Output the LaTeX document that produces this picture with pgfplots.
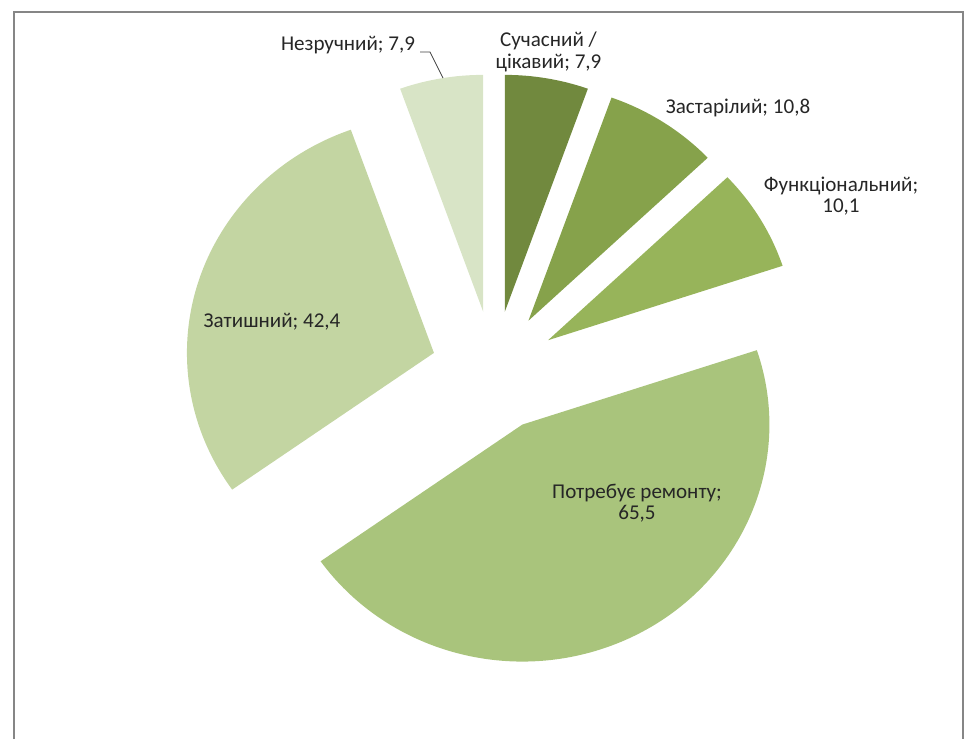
\documentclass[border=0pt]{standalone}
\usepackage{fontspec}
\setmainfont{Carlito}
\usepackage{pgfplots}
\pgfplotsset{compat=1.18}
\usepackage{pgfplotstable}

\definecolor{s1}{HTML}{71893E}
\definecolor{s2}{HTML}{86A24B}
\definecolor{s3}{HTML}{97B45A}
\definecolor{s4}{HTML}{A9C47C}
\definecolor{s5}{HTML}{C3D5A2}
\definecolor{s6}{HTML}{D8E4C6}
\definecolor{frame}{HTML}{868686}
\definecolor{txt}{HTML}{262626}

% values, clockwise from 12 o'clock
\pgfplotstableread{
value
7.9
10.8
10.1
65.5
42.4
7.9
}\piedata

\begin{document}
\begin{tikzpicture}
\begin{axis}[
  width=731.25pt, height=550.5pt, scale only axis,
  xmin=0, xmax=975, ymin=0, ymax=734,
  hide axis, clip=false,
]
\pgfplotsextra{
  \pgfplotstablegetrowsof{\piedata}
  \pgfmathtruncatemacro\pienrows{\pgfplotsretval-1}
  \gdef\pietotal{0}
  \foreach \i in {0,...,\pienrows}{
    \pgfplotstablegetelem{\i}{value}\of\piedata
    \pgfmathsetmacro\pietmp{\pietotal+\pgfplotsretval}
    \xdef\pietotal{\pietmp}
  }
  \gdef\piecum{0}
  \foreach \i/\col in {0/s1,1/s2,2/s3,3/s4,4/s5,5/s6}{
    \pgfplotstablegetelem{\i}{value}\of\piedata
    \pgfmathsetmacro\pieval{\pgfplotsretval}
    \pgfmathsetmacro\piesa{90-(\piecum/\pietotal)*360}
    \pgfmathsetmacro\pieea{90-((\piecum+\pieval)/\pietotal)*360}
    \pgfmathsetmacro\piema{(\piesa+\pieea)/2}
    \pgfmathsetmacro\pieax{494+63*cos(\piema)}
    \pgfmathsetmacro\pieay{363+60*sin(\piema)}
    \pgfmathsetmacro\piebx{\pieax+247*cos(\piesa)}
    \pgfmathsetmacro\pieby{\pieay+237*sin(\piesa)}
    \fill[\col] (axis cs:\pieax,\pieay) -- (axis cs:\piebx,\pieby)
       arc[start angle=\piesa, end angle=\pieea, x radius=247, y radius=237] -- cycle;
    \pgfmathsetmacro\pietmp{\piecum+\pieval}
    \xdef\piecum{\pietmp}
  }
  \path (axis cs:0,0) rectangle (axis cs:975,734);
  \draw[frame, line width=1.1pt] (axis cs:14,-5) -- (axis cs:14,722) -- (axis cs:963,722) -- (axis cs:963,-5);
  \draw[black!75, line width=0.6pt] (axis cs:420,682) -- (axis cs:430,682) -- (axis cs:443,656);
  \begin{scope}[every node/.style={text=txt, font=\fontsize{15.8}{16}\selectfont, align=center, inner sep=0pt}]
    \node at (axis cs:348,689) {Незручний; 7,9};
    \node at (axis cs:548.5,682) {Сучасний /\\цікавий; 7,9};
    \node at (axis cs:738,626) {Застарілий; 10,8};
    \node at (axis cs:841,538) {Функціональний;\\10,1};
    \node at (axis cs:272,412) {Затишний; 42,4};
    \node at (axis cs:637,231) {Потребує ремонту;\\65,5};
  \end{scope}
}
\end{axis}
\end{tikzpicture}
\end{document}
